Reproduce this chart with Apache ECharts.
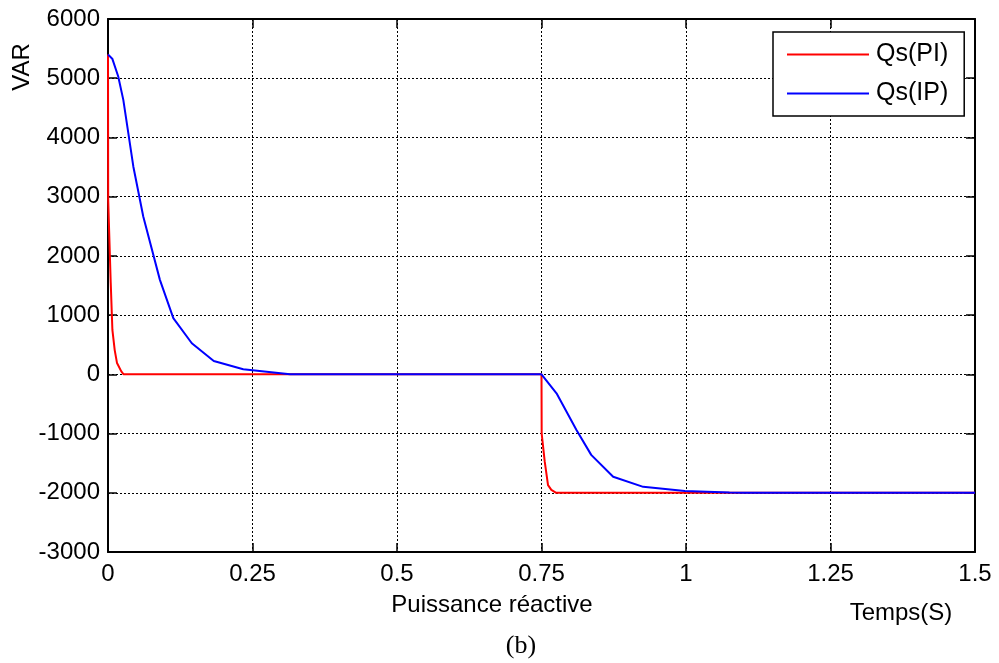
<!DOCTYPE html>
<html>
<head>
<meta charset="utf-8">
<script src="https://cdn.jsdelivr.net/npm/echarts@6/dist/echarts.min.js"></script>
<style>
  html, body { margin: 0; padding: 0; background: #fff; }
  #chart { width: 999px; height: 663px; }
</style>
</head>
<body>
<div id="chart"></div>
<script>
// Qs(PI) : temps (s) / puissance reactive (VAR)
const tempsPI = [0, 0.0003, 0.0047, 0.0076, 0.0116, 0.0156, 0.023, 0.027, 0.75, 0.7503, 0.7516, 0.7556, 0.7613, 0.767, 0.7754, 1.5]
const qsPI = [5400, 2950, 1550, 750, 410, 190, 50, 0, 0, -1000, -1020, -1475, -1870, -1950, -2000, -2000]

// Qs(IP)
const tempsIP = [0, 0.0074, 0.0177, 0.0265, 0.0438, 0.061, 0.0898, 0.113, 0.145, 0.183, 0.234, 0.315, 0.75, 0.776, 0.8105, 0.836, 0.874, 0.926, 0.998, 1.075, 1.1, 1.5]
const qsIP = [5400, 5330, 5030, 4635, 3510, 2665, 1595, 950, 525, 225, 85, 0, 0, -320, -940, -1360, -1730, -1900, -1970, -1995, -2000, -2000]

const xTicks = [0, 0.25, 0.5, 0.75, 1, 1.25, 1.5]

function pairs (t, v) {
  return t.map((x, i) => [x, v[i]])
}

const chart = echarts.init(document.getElementById('chart'))
const font = 'Liberation Sans, Arial, sans-serif'
const dotted = { color: '#000', type: [2, 2], width: 1 }
const frame = { onZero: false, lineStyle: { color: '#000', width: 2 } }
const ticks = { show: true, inside: true, length: 9, lineStyle: { color: '#000', width: 1.5 } }

const option = {
  animation: false,
  backgroundColor: '#fff',
  textStyle: { fontFamily: font },
  grid: { left: 108, right: 24, top: 19, bottom: 111 },
  legend: {
    orient: 'vertical',
    left: 773,
    top: 32,
    backgroundColor: '#fff',
    borderColor: '#000',
    borderWidth: 1.5,
    padding: [10, 16, 10, 14],
    itemGap: 14,
    itemWidth: 82,
    itemHeight: 2,
    icon: 'rect',
    textStyle: { fontSize: 25, color: '#000', fontFamily: font, padding: [0, 0, 0, 2] },
    data: ['Qs(PI)', 'Qs(IP)']
  },
  xAxis: [{
    type: 'value',
    min: 0,
    max: 1.5,
    interval: 0.25,
    axisLine: frame,
    axisTick: ticks,
    axisLabel: {
      fontSize: 24,
      color: '#000',
      margin: 10,
      formatter: v => (xTicks.indexOf(v) >= 0 ? String(v) : '')
    },
    splitLine: { show: true, lineStyle: dotted }
  }, {
    type: 'value',
    position: 'top',
    min: 0,
    max: 1.5,
    interval: 0.25,
    axisLine: frame,
    axisTick: ticks,
    axisLabel: { show: false },
    splitLine: { show: false }
  }],
  yAxis: [{
    type: 'value',
    min: -3000,
    max: 6000,
    interval: 1000,
    axisLine: Object.assign({ show: true }, frame),
    axisTick: ticks,
    axisLabel: { fontSize: 24, color: '#000', margin: 8, formatter: v => String(v) },
    splitLine: { show: true, lineStyle: dotted }
  }, {
    type: 'value',
    position: 'right',
    min: -3000,
    max: 6000,
    interval: 1000,
    axisLine: Object.assign({ show: true }, frame),
    axisTick: ticks,
    axisLabel: { show: false },
    splitLine: { show: false }
  }],
  graphic: [
    {
      type: 'text',
      x: 22,
      y: 67,
      rotation: Math.PI / 2,
      style: { text: 'VAR', fontSize: 24, fontFamily: font, fill: '#000', align: 'center', verticalAlign: 'middle' }
    },
    {
      type: 'text',
      x: 492,
      y: 605,
      style: { text: 'Puissance réactive', fontSize: 24, fontFamily: font, fill: '#000', align: 'center', verticalAlign: 'middle' }
    },
    {
      type: 'text',
      x: 901,
      y: 613,
      style: { text: 'Temps(S)', fontSize: 24, fontFamily: font, fill: '#000', align: 'center', verticalAlign: 'middle' }
    },
    {
      type: 'text',
      x: 521,
      y: 646,
      style: { text: '(b)', fontSize: 26, fontFamily: 'Liberation Serif, Times New Roman, serif', fill: '#000', align: 'center', verticalAlign: 'middle' }
    }
  ],
  series: [{
    name: 'Qs(PI)',
    type: 'line',
    showSymbol: false,
    color: '#ff0000',
    lineStyle: { width: 2, color: '#ff0000' },
    data: pairs(tempsPI, qsPI),
    z: 3
  }, {
    name: 'Qs(IP)',
    type: 'line',
    showSymbol: false,
    color: '#0000ff',
    lineStyle: { width: 2, color: '#0000ff' },
    data: pairs(tempsIP, qsIP),
    z: 4
  }]
}

chart.setOption(option)
</script>
</body>
</html>
